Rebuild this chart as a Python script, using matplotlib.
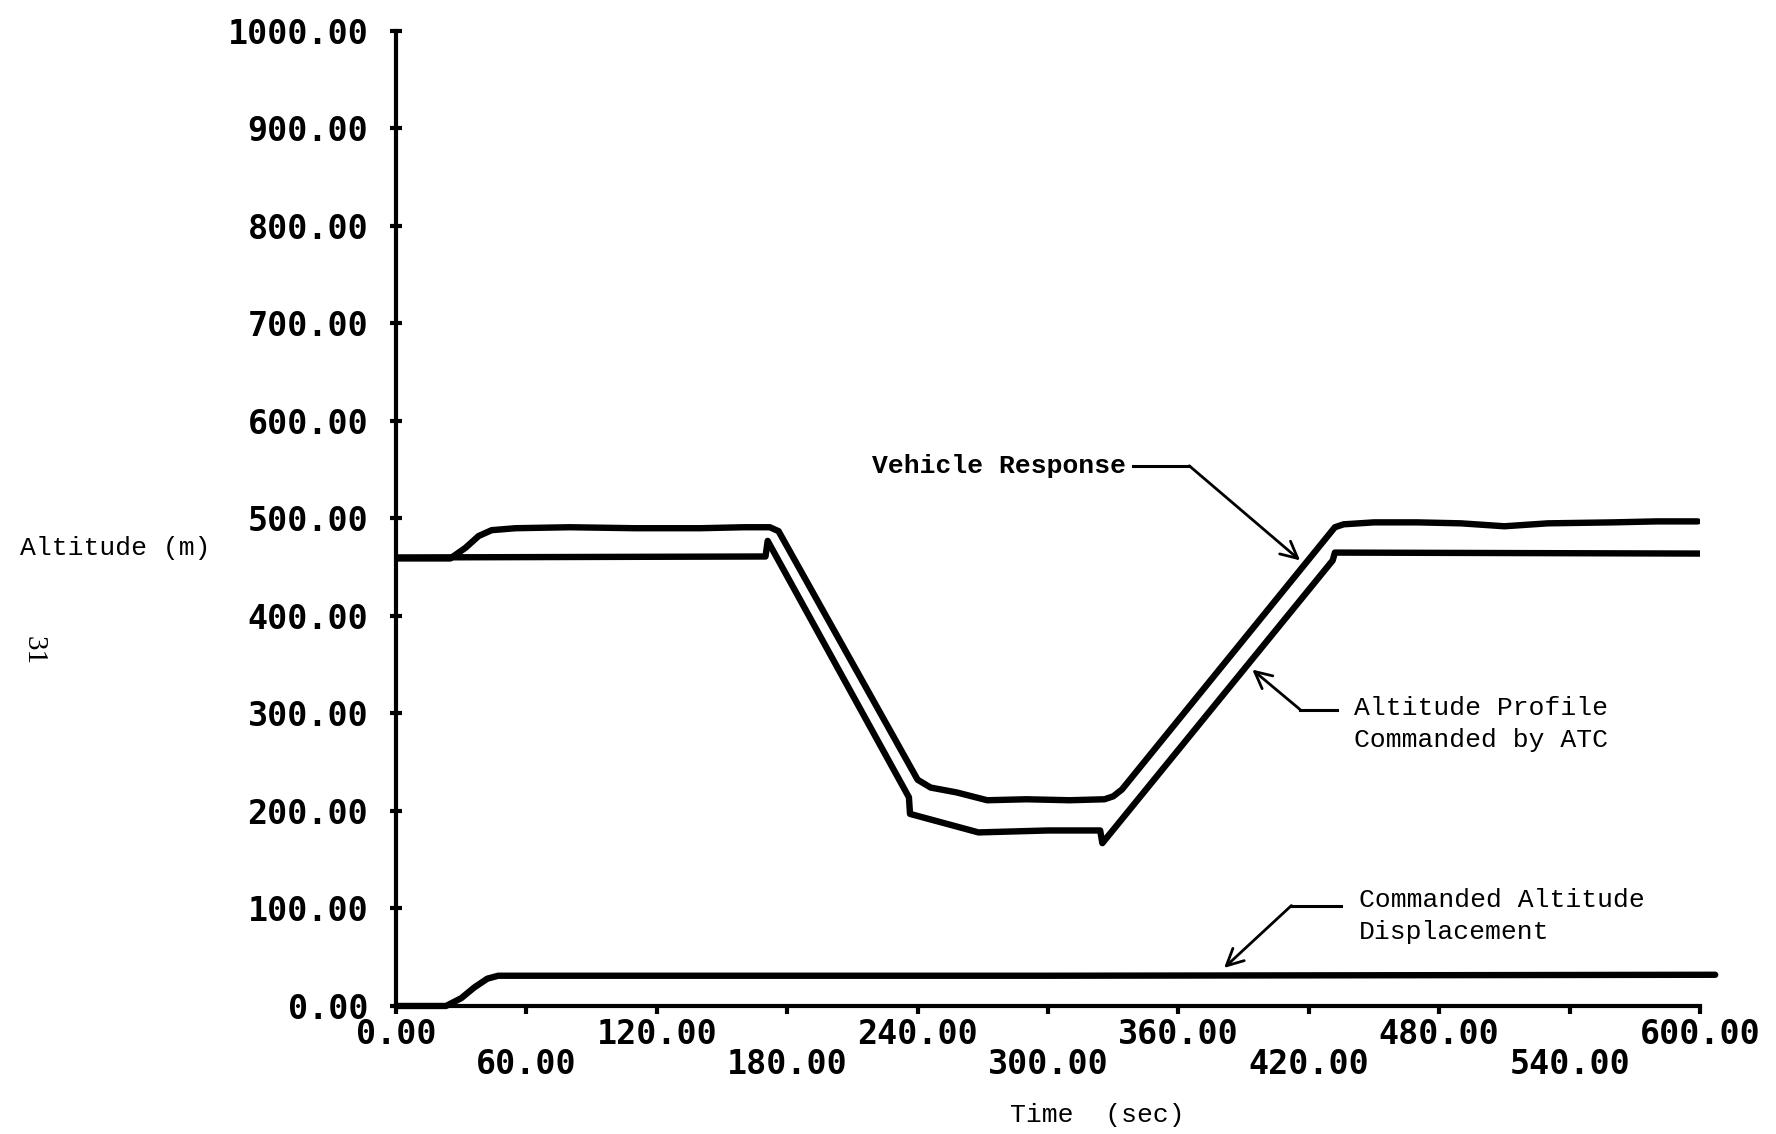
import matplotlib
matplotlib.use("Agg")
import matplotlib.pyplot as plt
from matplotlib.ticker import FixedLocator, FuncFormatter

# series (time in s, altitude in m)
vehicle_t = [0, 25, 32, 38, 44, 55, 80, 110, 140, 160, 172, 176,
             240, 246, 258, 272, 290, 310, 326, 330, 334,
             432, 436, 450, 470, 490, 510, 530, 560, 580, 599]
vehicle_alt = [459, 459, 470, 482, 488, 490, 491, 490, 490, 491, 491, 487,
               232, 224, 219, 211, 212, 211, 212, 215, 222,
               491, 494, 496, 496, 495, 492, 495, 496, 497, 497]

profile_t = [0, 170, 171, 236, 236.5, 268, 300, 324, 325, 431, 432, 600]
profile_alt = [460, 461, 477, 214, 197, 178, 180, 180, 167, 457, 465, 464]

displacement_t = [0, 23, 30, 36, 42, 47, 300, 607]
displacement_alt = [0, 0, 8, 19, 28, 31, 31, 32]

y_ticks = [0, 100, 200, 300, 400, 500, 600, 700, 800, 900, 1000]
x_ticks_upper = [0, 120, 240, 360, 480, 600]
x_ticks_lower = [60, 180, 300, 420, 540]

# callout texts and their leader lines (data coords)
vehicle_note = "Vehicle Response"
vehicle_note_xy = (336, 554)
vehicle_leader = [(339, 554), (365, 554)]
vehicle_tip = (416, 457)

profile_note = "Altitude Profile\nCommanded by ATC"
profile_note_xy = (441, 289)
profile_leader = [(433, 304), (416, 304)]
profile_tip = (394, 345)

disp_note = "Commanded Altitude\nDisplacement"
disp_note_xy = (443, 92)
disp_leader = [(435, 103), (412, 103)]
disp_tip = (381, 39)

tick_font = "DejaVu Sans Mono"
note_font = "Liberation Mono"

fig = plt.figure(figsize=(17.76, 11.34), dpi=100)
ax = fig.add_axes([0.2230, 0.1129, 0.7342, 0.8598])

line_kw = dict(color="black", lw=4.6, solid_capstyle="round", solid_joinstyle="round")
ax.plot(vehicle_t, vehicle_alt, **line_kw)
ax.plot(profile_t, profile_alt, **line_kw)
ax.plot(displacement_t, displacement_alt, clip_on=False, **line_kw)

ax.set_xlim(0, 600)
ax.set_ylim(0, 1000)
for side in ["top", "right"]:
    ax.spines[side].set_visible(False)
for side in ["left", "bottom"]:
    ax.spines[side].set_linewidth(3)

ax.set_yticks(y_ticks)
ax.set_yticklabels([f"{v:.2f}" for v in y_ticks], fontfamily=tick_font,
                   fontweight="bold", fontsize=24)
ax.tick_params(axis="y", direction="inout", length=8, width=3, pad=16)

# x labels alternate on two rows
ax.xaxis.set_major_locator(FixedLocator(x_ticks_upper))
ax.xaxis.set_minor_locator(FixedLocator(x_ticks_lower))
fmt = FuncFormatter(lambda v, p: f"{v:.2f}")
ax.xaxis.set_major_formatter(fmt)
ax.xaxis.set_minor_formatter(fmt)
ax.tick_params(axis="x", which="both", direction="out", length=6, width=3)
ax.tick_params(axis="x", which="major", pad=3)
ax.tick_params(axis="x", which="minor", pad=24)
for lab in ax.get_xticklabels(which="both"):
    lab.set_fontfamily(tick_font)
    lab.set_fontweight("bold")
    lab.set_fontsize(24)

# callouts
ax.text(*vehicle_note_xy, vehicle_note, ha="right", va="center",
        fontfamily=note_font, fontweight="bold", fontsize=19)
ax.text(*profile_note_xy, profile_note, ha="left", va="center",
        fontfamily=note_font, fontsize=19, linespacing=1.4)
ax.text(*disp_note_xy, disp_note, ha="left", va="center",
        fontfamily=note_font, fontsize=19, linespacing=1.4)

arrow_kw = dict(arrowstyle="->", lw=2, color="black", mutation_scale=30,
                shrinkA=0, shrinkB=0)
for leader, tip in [(vehicle_leader, vehicle_tip),
                    (profile_leader, profile_tip),
                    (disp_leader, disp_tip)]:
    ax.plot([leader[0][0], leader[1][0]], [leader[0][1], leader[1][1]],
            color="black", lw=2.2, clip_on=False)
    ax.annotate("", xy=tip, xytext=leader[1], arrowprops=arrow_kw)

fig.text(20 / 1776, 1 - 548 / 1134, "Altitude (m)", ha="left", va="center",
         fontfamily=note_font, fontsize=19)
fig.text(1097 / 1776, 1 - 1115 / 1134, "Time  (sec)", ha="center", va="center",
         fontfamily=note_font, fontsize=19)
fig.text(34 / 1776, 1 - 651 / 1134, "31", ha="center", va="center",
         rotation=270, fontfamily="Liberation Serif", fontsize=21)

fig.savefig("out.png", dpi=100)
